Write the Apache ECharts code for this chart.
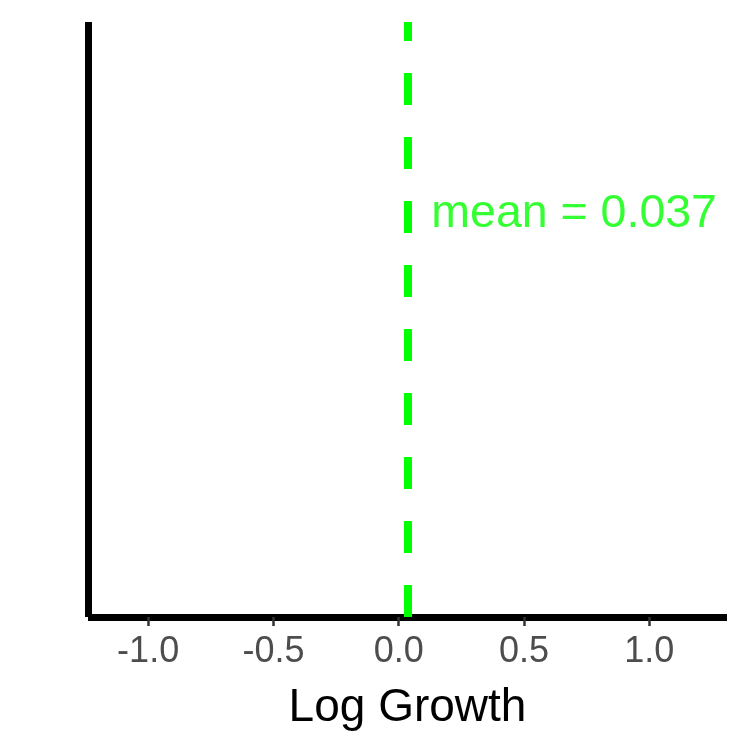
<!DOCTYPE html>
<html>
<head>
<meta charset="utf-8">
<script src="https://cdn.jsdelivr.net/npm/echarts@6/dist/echarts.min.js"></script>
<style>html,body{margin:0;padding:0;background:#fff}#c{width:750px;height:750px}</style>
</head>
<body>
<div id="c"></div>
<script>
var xTicks = [-1.0, -0.5, 0.0, 0.5, 1.0];
var xRange = [-1.24, 1.31];
var meanValue = 0.037;
var meanLabel = 'mean = 0.037';
var meanLabelPos = [0.70, 0.677];
var xTitle = 'Log Growth';

var FONT = 'Liberation Sans, Arial, sans-serif';
var chart = echarts.init(document.getElementById('c'), null, {renderer: 'canvas'});
chart.setOption({
  animation: false,
  backgroundColor: '#ffffff',
  grid: {left: 88, right: 23, top: 22, bottom: 133, containLabel: false},
  xAxis: {
    type: 'value', min: xRange[0], max: xRange[1],
    axisLine: {show: true, onZero: false, lineStyle: {color: '#000', width: 7, cap: 'butt'}},
    axisTick: {show: true, customValues: xTicks, length: 9, lineStyle: {color: '#333333', width: 2.5}},
    axisLabel: {show: true, customValues: xTicks, color: '#4D4D4D', fontSize: 36, fontFamily: FONT, margin: 17,
      formatter: function (v) { return v.toFixed(1); }},
    splitLine: {show: false},
    name: xTitle, nameLocation: 'middle', nameGap: 68,
    nameTextStyle: {color: '#000', fontSize: 46, fontFamily: FONT}
  },
  yAxis: {
    type: 'value', min: 0, max: 1,
    axisLine: {show: true, onZero: false, lineStyle: {color: '#000', width: 7, cap: 'butt'}},
    axisTick: {show: false}, axisLabel: {show: false}, splitLine: {show: false}
  },
  series: [
    {
      type: 'line', data: [[meanValue, 0], [meanValue, 1]], showSymbol: false, symbol: 'none',
      lineStyle: {color: '#00FF00', width: 8, type: [32, 32], cap: 'butt'}, z: 1
    },
    {
      type: 'scatter', data: [meanLabelPos], symbolSize: 0,
      label: {show: true, position: 'inside', formatter: meanLabel, color: '#00FF00', fontSize: 46.5, fontFamily: FONT}
    }
  ]
});
</script>
</body>
</html>
